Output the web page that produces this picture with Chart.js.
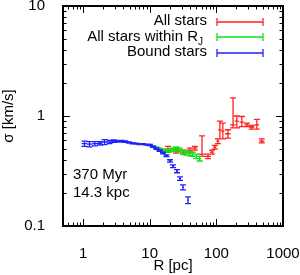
<!DOCTYPE html>
<html>
<head>
<meta charset="utf-8">
<script src="https://cdn.jsdelivr.net/npm/chart.js@4/dist/chart.umd.min.js"></script>
<style>
  html, body { margin: 0; padding: 0; background: #fff; }
  #wrap { width: 300px; height: 275px; }
</style>
</head>
<body>
<div id="wrap"><canvas id="chart" width="300" height="275"></canvas></div>
<script>
// tick labels
const X_TICKS = [1, 10, 100, 1000];
const Y_TICKS = [0.1, 1, 10];

// all stars (red)
const ALL_R   = [18.8, 24.8, 31.6, 40, 47.6, 60.9, 74.8, 86, 95, 105.5, 113, 125, 149, 178, 203, 241, 287, 340, 405, 480];
const ALL_S   = [0.50, 0.48, 0.47, 0.49, 0.51, 0.45, 0.43, 0.47, 0.52, 0.59, 0.75, 0.73, 0.69, 0.83, 0.90, 0.88, 0.83, 0.79, 0.83, 0.59];
const ALL_LO  = [0.47, 0.46, 0.45, 0.47, 0.49, 0.43, 0.41, 0.45, 0.50, 0.56, 0.62, 0.62, 0.63, 0.78, 0.78, 0.80, 0.80, 0.76, 0.76, 0.57];
const ALL_HI  = [0.53, 0.50, 0.49, 0.51, 0.53, 0.66, 0.45, 0.49, 0.54, 0.62, 0.90, 0.86, 0.75, 1.46, 1.00, 0.99, 0.86, 0.82, 0.93, 0.62];
const ALL_RLO = [16.6, 22, 28, 35.5, 43, 54, 67, 80, 90, 100, 107, 118, 135, 160, 188, 222, 265, 312, 372, 440];
const ALL_RHI = [21.2, 27.8, 35.5, 45, 52, 68, 83, 92, 100, 111, 119, 132, 163, 195, 218, 260, 310, 368, 440, 525];

// all stars within R_J (green)
const RJ_R   = [10.0, 11.2, 12.6, 14.1, 15.8, 17.8, 20.0, 22.4, 25.1, 28.2, 31.6, 35.5, 39.8, 44.7, 50.1, 56.2];
const RJ_S   = [0.545, 0.53, 0.515, 0.50, 0.49, 0.48, 0.485, 0.495, 0.505, 0.49, 0.47, 0.46, 0.455, 0.45, 0.43, 0.41];
const RJ_ERR = [0.008, 0.008, 0.008, 0.009, 0.01, 0.012, 0.015, 0.018, 0.02, 0.02, 0.02, 0.02, 0.02, 0.02, 0.02, 0.02];
const RJ_RLO = [9.45, 10.6, 11.9, 13.3, 14.9, 16.8, 18.9, 21.2, 23.7, 26.6, 29.9, 33.5, 37.6, 42.2, 47.3, 53.1];
const RJ_RHI = [10.6, 11.9, 13.3, 14.9, 16.8, 18.9, 21.2, 23.7, 26.6, 29.9, 33.5, 37.6, 42.2, 47.3, 53.1, 59.5];

// bound stars (blue)
const BD_R   = [1.05, 1.25, 1.5, 1.8, 2.1, 2.5, 2.9, 3.3, 3.8, 4.3, 4.9, 5.5, 6.2, 7.0, 7.9, 8.9, 10.0, 11.2, 12.6, 14.1, 15.8, 17.8, 20.2, 22.4, 25.7, 28.5, 31.5, 37.5];
const BD_S   = [0.56, 0.555, 0.56, 0.565, 0.58, 0.58, 0.59, 0.59, 0.59, 0.585, 0.575, 0.565, 0.56, 0.555, 0.555, 0.55, 0.545, 0.525, 0.505, 0.485, 0.46, 0.435, 0.39, 0.35, 0.315, 0.27, 0.225, 0.172];
const BD_ERR = [0.03, 0.03, 0.025, 0.02, 0.03, 0.02, 0.015, 0.01, 0.01, 0.01, 0.008, 0.008, 0.006, 0.006, 0.006, 0.006, 0.006, 0.006, 0.007, 0.007, 0.008, 0.008, 0.01, 0.01, 0.01, 0.01, 0.012, 0.012];
const BD_RLO = [0.95, 1.15, 1.38, 1.65, 1.95, 2.3, 2.7, 3.1, 3.55, 4.05, 4.6, 5.2, 5.85, 6.6, 7.45, 8.4, 9.45, 10.6, 11.9, 13.3, 14.9, 16.8, 19.3, 21.5, 24.8, 27.5, 30.5, 36.3];
const BD_RHI = [1.15, 1.38, 1.65, 1.95, 2.3, 2.7, 3.1, 3.55, 4.05, 4.6, 5.2, 5.85, 6.6, 7.45, 8.4, 9.45, 10.6, 11.9, 13.3, 14.9, 16.8, 18.9, 21.1, 23.3, 26.6, 29.5, 32.5, 38.7];

const RED = '#ff2020';
const GREEN = '#10e010';
const BLUE = '#2020ff';
const FONT = '"Liberation Sans", Arial, Helvetica, sans-serif';

const SERIES = [
  { label: 'All stars', color: RED, r: ALL_R, s: ALL_S, lo: ALL_LO, hi: ALL_HI, rlo: ALL_RLO, rhi: ALL_RHI },
  { label: 'All stars within R', sub: 'J', color: GREEN, r: RJ_R, s: RJ_S,
    lo: RJ_S.map((v, i) => v - RJ_ERR[i]), hi: RJ_S.map((v, i) => v + RJ_ERR[i]), rlo: RJ_RLO, rhi: RJ_RHI },
  { label: 'Bound stars', color: BLUE, r: BD_R, s: BD_S,
    lo: BD_S.map((v, i) => v - BD_ERR[i]), hi: BD_S.map((v, i) => v + BD_ERR[i]), rlo: BD_RLO, rhi: BD_RHI }
];

// error bars, frame with inward log ticks, key and label
const gnuplotLook = {
  id: 'gnuplotLook',
  afterDatasetsDraw(chart) {
    const { ctx, chartArea: a, scales: { x, y } } = chart;
    ctx.save();
    ctx.beginPath();
    ctx.rect(a.left, a.top, a.right - a.left, a.bottom - a.top);
    ctx.clip();
    ctx.lineWidth = 1.3;
    SERIES.forEach((sr) => {
      ctx.strokeStyle = sr.color;
      ctx.beginPath();
      sr.r.forEach((r, i) => {
        const px = x.getPixelForValue(r);
        const py = y.getPixelForValue(sr.s[i]);
        const pl = y.getPixelForValue(sr.lo[i]);
        const ph = y.getPixelForValue(sr.hi[i]);
        ctx.moveTo(x.getPixelForValue(sr.rlo[i]), py);
        ctx.lineTo(x.getPixelForValue(sr.rhi[i]), py);
        ctx.moveTo(px, pl);
        ctx.lineTo(px, ph);
        ctx.moveTo(px - 3, pl);
        ctx.lineTo(px + 3, pl);
        ctx.moveTo(px - 3, ph);
        ctx.lineTo(px + 3, ph);
      });
      ctx.stroke();
    });
    ctx.restore();
  },
  afterDraw(chart) {
    const { ctx, chartArea: a, scales: { x, y } } = chart;
    ctx.save();
    ctx.strokeStyle = '#000';
    ctx.lineWidth = 1;
    ctx.beginPath();
    const decades = (lo, hi) => {
      const out = [];
      for (let e = Math.floor(Math.log10(lo)); e <= Math.ceil(Math.log10(hi)); e++) {
        for (let k = 1; k <= 9; k++) {
          const v = k * Math.pow(10, e);
          if (v >= lo * 0.999 && v <= hi * 1.001) out.push({ v, major: k === 1 });
        }
      }
      return out;
    };
    decades(x.min, x.max).forEach(({ v, major }) => {
      const px = Math.round(x.getPixelForValue(v)) + 0.5;
      const len = major ? 7 : 3.5;
      ctx.moveTo(px, a.bottom); ctx.lineTo(px, a.bottom - len);
      ctx.moveTo(px, a.top); ctx.lineTo(px, a.top + len);
    });
    decades(y.min, y.max).forEach(({ v, major }) => {
      const py = Math.round(y.getPixelForValue(v)) + 0.5;
      const len = major ? 7 : 3.5;
      ctx.moveTo(a.left, py); ctx.lineTo(a.left + len, py);
      ctx.moveTo(a.right, py); ctx.lineTo(a.right - len, py);
    });
    ctx.stroke();
    ctx.lineWidth = 2;
    ctx.strokeRect(a.left, a.top, a.right - a.left, a.bottom - a.top);

    // key
    ctx.font = '15px ' + FONT;
    ctx.textBaseline = 'middle';
    ctx.fillStyle = '#000';
    const rows = [22, 37, 53];
    SERIES.forEach((sr, i) => {
      const ty = rows[i];
      ctx.textAlign = 'right';
      if (sr.sub) {
        ctx.font = '10px ' + FONT;
        ctx.fillText(sr.sub, 203, ty + 5);
        const w = ctx.measureText(sr.sub).width;
        ctx.font = '15px ' + FONT;
        ctx.fillText(sr.label, 203 - w, ty);
      } else {
        ctx.fillText(sr.label, 207, ty - 1);
      }
      ctx.strokeStyle = sr.color;
      ctx.lineWidth = 1.3;
      ctx.beginPath();
      ctx.moveTo(217, ty); ctx.lineTo(263, ty);
      ctx.moveTo(217, ty - 4); ctx.lineTo(217, ty + 4);
      ctx.moveTo(263, ty - 4); ctx.lineTo(263, ty + 4);
      ctx.stroke();
    });

    // time / distance label
    ctx.textAlign = 'left';
    ctx.textBaseline = 'alphabetic';
    ctx.fillText('370 Myr', 73, 179);
    ctx.fillText('14.3 kpc', 73, 197);
    ctx.restore();
  }
};

new Chart(document.getElementById('chart'), {
  type: 'scatter',
  data: {
    datasets: SERIES.map((sr) => ({
      label: sr.label,
      data: sr.r.map((r, i) => ({ x: r, y: sr.s[i] })),
      pointRadius: 0,
      borderColor: sr.color,
      showLine: false
    }))
  },
  options: {
    responsive: false,
    animation: false,
    layout: { padding: { top: 6, right: 17, left: 0, bottom: 0 } },
    plugins: { legend: { display: false }, tooltip: { enabled: false } },
    scales: {
      x: {
        type: 'logarithmic',
        min: 0.5,
        max: 1000,
        afterBuildTicks: (s) => { s.ticks = X_TICKS.map((v) => ({ value: v })); },
        afterFit: (s) => { s.height = 49; s.paddingLeft = 0; s.paddingRight = 0; },
        grid: { display: false },
        border: { display: false },
        ticks: { color: '#000', font: { size: 15, family: FONT }, padding: 11, maxRotation: 0, autoSkip: false, callback: (v) => String(v) },
        title: { display: true, text: 'R [pc]', color: '#000', font: { size: 15, family: FONT }, padding: 0 }
      },
      y: {
        type: 'logarithmic',
        min: 0.1,
        max: 10,
        afterBuildTicks: (s) => { s.ticks = Y_TICKS.map((v) => ({ value: v })); },
        afterFit: (s) => { s.width = 63; s.paddingTop = 0; s.paddingBottom = 0; },
        grid: { display: false },
        border: { display: false },
        ticks: { color: '#000', font: { size: 15, family: FONT }, padding: 10, autoSkip: false, callback: (v) => String(v) },
        title: { display: true, text: 'σ [km/s]', color: '#000', font: { size: 15, family: FONT }, padding: 0 }
      }
    }
  },
  plugins: [gnuplotLook]
});
</script>
</body>
</html>
